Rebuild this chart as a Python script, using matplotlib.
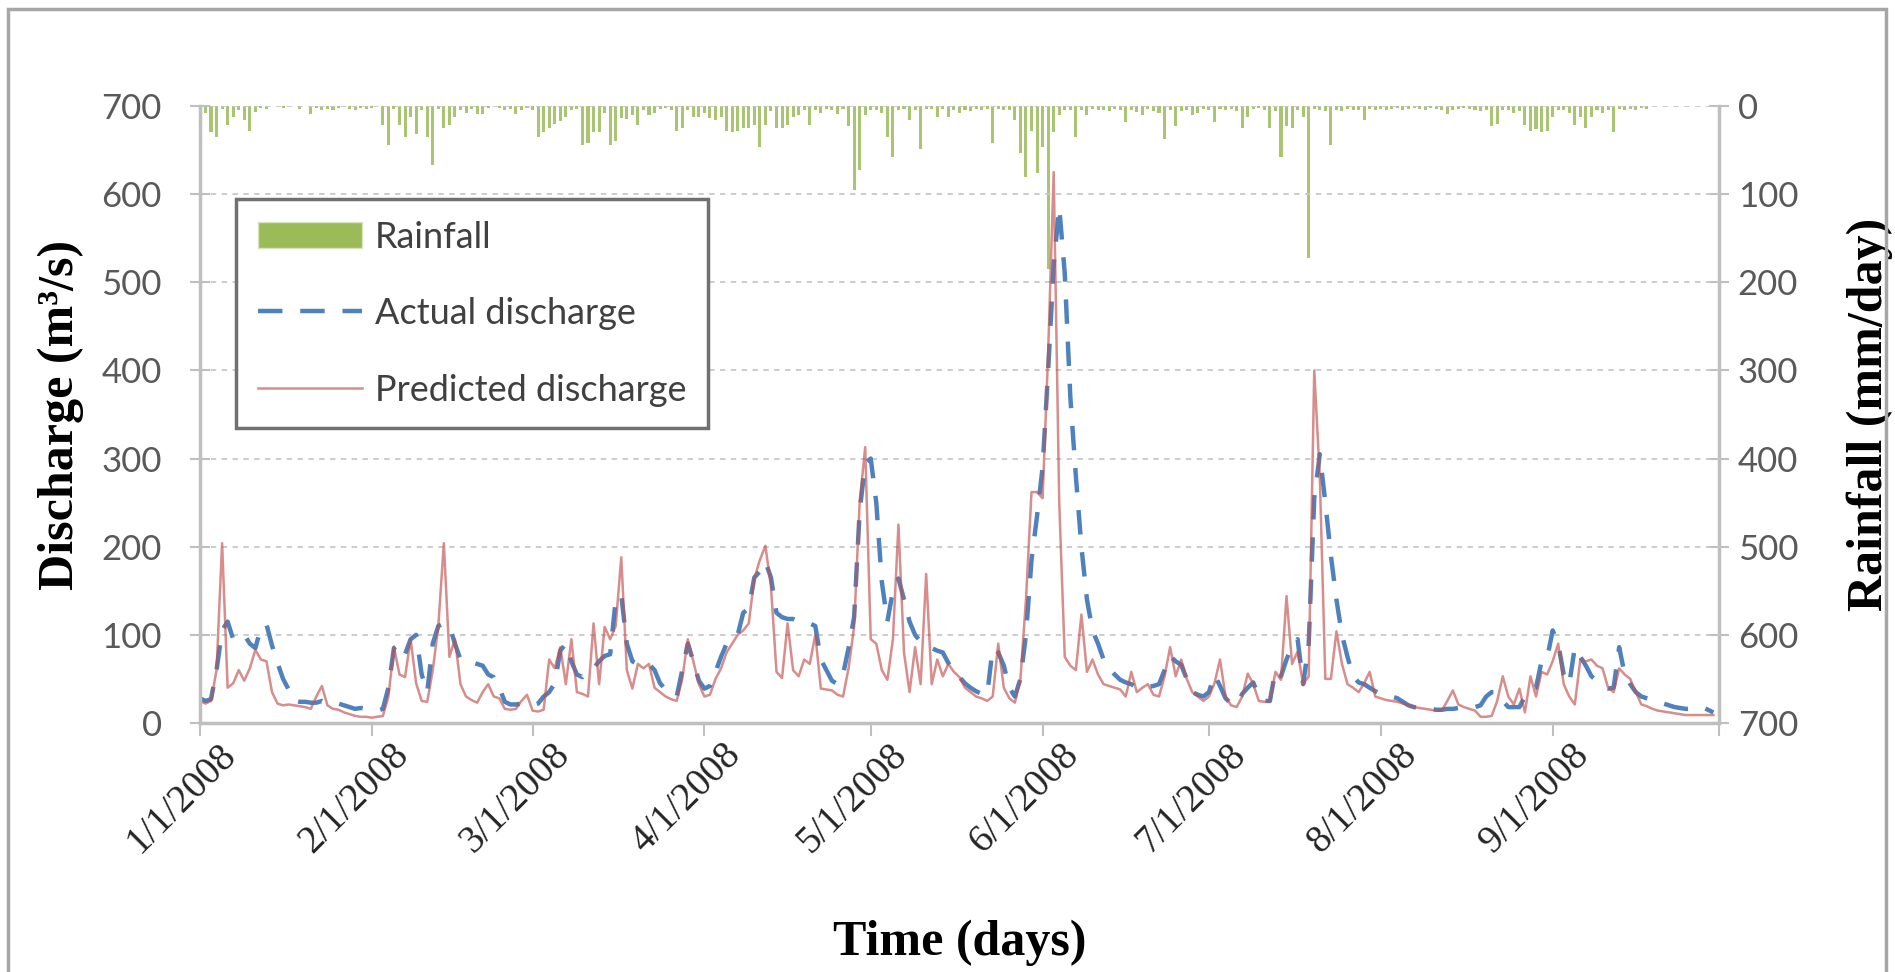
import pandas as pd
import matplotlib
matplotlib.use("Agg")
import matplotlib.pyplot as plt
import matplotlib.transforms as mtransforms
from matplotlib.patches import Patch, Rectangle
from matplotlib.lines import Line2D

# daily values, 1/1/2008 .. 9/30/2008, one list per month
actual_jan = [28, 25, 27, 60, 105, 115, 95, 97, 100, 90, 85, 108, 112, 88, 68, 50, 38, 25, 24, 24, 23, 23, 25, 22, 21, 22, 20, 18, 16, 17, 16]
actual_feb = [15, 14, 16, 40, 85, 90, 78, 95, 100, 55, 35, 90, 110, 113, 110, 90, 72, 70, 69, 67, 65, 55, 52, 40, 24, 21, 21, 22, 22]
actual_mar = [20, 22, 30, 35, 45, 82, 90, 70, 55, 52, 60, 62, 70, 76, 78, 140, 145, 90, 70, 67, 66, 67, 60, 45, 38, 34, 30, 60, 90, 70, 48]
actual_apr = [39, 42, 58, 75, 90, 95, 100, 125, 130, 165, 172, 183, 165, 125, 120, 118, 118, 115, 113, 113, 110, 72, 60, 48, 44, 55, 85, 120, 240, 295]
actual_may = [300, 250, 160, 115, 150, 164, 140, 115, 100, 92, 90, 85, 82, 80, 68, 58, 52, 45, 40, 36, 33, 32, 85, 80, 65, 40, 30, 50, 100, 185, 235]
actual_jun = [290, 400, 520, 585, 510, 370, 280, 200, 140, 105, 90, 72, 62, 55, 49, 46, 44, 40, 40, 41, 42, 44, 60, 76, 70, 66, 50, 35, 32, 30]
actual_jul = [35, 55, 42, 28, 22, 21, 33, 40, 46, 30, 25, 25, 60, 53, 72, 88, 95, 44, 90, 255, 305, 250, 190, 140, 100, 75, 53, 46, 44, 40, 36]
actual_aug = [33, 31, 30, 28, 24, 20, 18, 17, 16, 16, 15, 15, 16, 16, 17, 18, 18, 18, 20, 30, 35, 35, 25, 18, 18, 18, 30, 39, 40, 70, 73]
actual_sep = [105, 90, 55, 44, 86, 75, 65, 53, 48, 42, 39, 40, 86, 55, 44, 35, 30, 28, 26, 24, 22, 20, 18, 17, 16, 16, 17, 18, 15, 12]

pred_jan = [25, 22, 25, 60, 204, 40, 45, 60, 48, 62, 83, 72, 70, 35, 22, 20, 21, 20, 19, 18, 16, 30, 42, 20, 16, 15, 12, 10, 8, 7, 7]
pred_feb = [6, 7, 8, 30, 86, 55, 52, 95, 45, 25, 24, 60, 110, 204, 75, 95, 44, 30, 26, 23, 35, 44, 30, 28, 16, 15, 16, 25, 32]
pred_mar = [14, 13, 15, 72, 62, 86, 44, 95, 35, 33, 30, 113, 44, 109, 95, 110, 188, 60, 39, 67, 62, 67, 40, 35, 30, 27, 25, 50, 95, 70, 44]
pred_apr = [30, 32, 50, 62, 80, 90, 100, 105, 113, 164, 185, 201, 155, 58, 51, 113, 60, 53, 72, 67, 100, 39, 38, 37, 32, 30, 62, 109, 250, 313]
pred_may = [95, 90, 60, 49, 95, 225, 80, 35, 86, 44, 169, 44, 72, 53, 67, 58, 52, 40, 35, 30, 28, 25, 30, 90, 40, 28, 23, 50, 140, 262, 262]
pred_jun = [255, 420, 625, 250, 75, 65, 60, 123, 58, 72, 55, 44, 42, 40, 38, 30, 58, 35, 40, 44, 32, 30, 53, 86, 53, 72, 50, 35, 30, 25]
pred_jul = [30, 45, 72, 30, 20, 18, 30, 56, 44, 25, 24, 25, 58, 49, 144, 67, 81, 44, 53, 400, 280, 50, 50, 104, 67, 44, 40, 35, 45, 58, 30]
pred_aug = [28, 26, 25, 24, 22, 20, 18, 17, 16, 15, 14, 14, 25, 37, 21, 18, 16, 14, 7, 7, 8, 25, 53, 30, 21, 39, 12, 53, 30, 58, 55]
pred_sep = [70, 90, 44, 30, 21, 72, 70, 72, 65, 62, 40, 35, 62, 55, 50, 35, 21, 19, 16, 14, 13, 12, 11, 10, 9, 9, 9, 9, 9, 9]

rain_jan = [5, 8, 30, 35, 3, 21, 12, 4, 16, 28, 7, 2, 3, 0, 0, 2, 0, 0, 3, 0, 9, 2, 4, 3, 5, 2, 0, 3, 4, 2, 3]
rain_feb = [2, 0, 21, 44, 3, 21, 35, 12, 32, 4, 35, 67, 3, 25, 22, 12, 5, 8, 3, 9, 9, 2, 0, 2, 4, 3, 9, 5, 2]
rain_mar = [4, 35, 30, 25, 20, 17, 12, 5, 3, 44, 42, 30, 30, 8, 44, 40, 14, 15, 10, 21, 5, 10, 8, 3, 2, 5, 28, 25, 4, 12, 12]
rain_apr = [8, 14, 16, 12, 28, 30, 28, 25, 25, 22, 46, 21, 6, 25, 25, 22, 12, 10, 4, 21, 5, 8, 3, 5, 9, 3, 23, 95, 72, 10]
rain_may = [5, 4, 8, 35, 58, 4, 3, 16, 4, 49, 3, 3, 12, 3, 12, 4, 8, 5, 6, 3, 4, 3, 42, 3, 4, 5, 16, 53, 81, 28, 76]
rain_jun = [46, 185, 30, 10, 4, 5, 35, 4, 10, 3, 5, 4, 6, 3, 5, 18, 4, 7, 10, 3, 6, 8, 37, 5, 23, 6, 4, 10, 8, 3]
rain_jul = [5, 18, 3, 4, 3, 6, 25, 12, 3, 2, 4, 25, 6, 58, 23, 25, 4, 12, 172, 3, 4, 6, 44, 5, 6, 3, 5, 4, 16, 3, 4]
rain_aug = [3, 5, 3, 2, 4, 3, 2, 3, 4, 2, 3, 5, 9, 4, 3, 2, 3, 4, 6, 5, 23, 20, 5, 4, 8, 6, 21, 28, 26, 30, 28]
rain_sep = [12, 5, 4, 8, 21, 12, 25, 12, 4, 8, 5, 30, 3, 5, 3, 4, 2, 3, 0, 0, 0, 0, 0, 0, 0, 0, 0, 0, 0, 0]

actual = (actual_jan + actual_feb + actual_mar + actual_apr + actual_may
          + actual_jun + actual_jul + actual_aug + actual_sep)
predicted = (pred_jan + pred_feb + pred_mar + pred_apr + pred_may
             + pred_jun + pred_jul + pred_aug + pred_sep)
rainfall = (rain_jan + rain_feb + rain_mar + rain_apr + rain_may
            + rain_jun + rain_jul + rain_aug + rain_sep)

dates = pd.date_range("2008-01-01", periods=len(actual), freq="D")
month_ticks = pd.date_range("2008-01-01", "2008-10-01", freq="MS")
tick_labels = ["1/1/2008", "2/1/2008", "3/1/2008", "4/1/2008", "5/1/2008",
               "6/1/2008", "7/1/2008", "8/1/2008", "9/1/2008", ""]
left_ticks = [0, 100, 200, 300, 400, 500, 600, 700]

GREEN = "#9BBB59"
BLUE = "#4F81BD"
RED = "#C0504D"
AXGRAY = "#BFBFBF"

fig = plt.figure(figsize=(18.95, 9.72), dpi=100)
ax = fig.add_axes([0.1055, 0.2562, 0.8016, 0.6347])
ax2 = ax.twinx()

# rainfall hangs from the top on the secondary axis
ax2.bar(dates, rainfall, width=0.55, color=GREEN, linewidth=0, alpha=0.85)
ax2.set_ylim(700, 0)

ax.set_zorder(ax2.get_zorder() + 1)
ax.patch.set_visible(False)

ax.plot(dates, actual, color=BLUE, lw=3.2, dashes=(5.5, 4))
ax.plot(dates, predicted, color=RED, lw=1.8, alpha=0.65)

ax.set_xlim(pd.Timestamp("2008-01-01"), pd.Timestamp("2008-10-01"))
ax.set_ylim(0, 700)
ax.set_yticks(left_ticks)
ax2.set_yticks(left_ticks)

ax.yaxis.grid(True, linestyle=(0, (3, 3)), color="#C8C8C8", lw=1.3)

for a in (ax, ax2):
    for s in a.spines.values():
        s.set_visible(False)
ax.spines["left"].set_visible(True)
ax.spines["bottom"].set_visible(True)
ax2.spines["right"].set_visible(True)
for s in (ax.spines["left"], ax.spines["bottom"], ax2.spines["right"]):
    s.set_color(AXGRAY)
    s.set_linewidth(2.5)

tickfont = {"family": "Lato", "size": 25, "color": "#595959"}
ax.set_yticklabels([str(v) for v in left_ticks], fontdict=tickfont)
ax2.set_yticklabels([str(v) for v in left_ticks], fontdict=tickfont)
ax.tick_params(axis="y", direction="inout", length=15, width=1.5, color=AXGRAY, pad=20)
ax2.tick_params(axis="y", direction="inout", length=15, width=1.5, color=AXGRAY, pad=6)

ax.set_xticks(month_ticks)
ax.set_xticklabels(tick_labels, rotation=45, ha="right", va="top",
                   rotation_mode="anchor")
ax.tick_params(axis="x", direction="out", length=9, width=1.5, color=AXGRAY, pad=1)
shift = mtransforms.ScaledTranslation(18 / 100, 0, fig.dpi_scale_trans)
for lab in ax.get_xticklabels():
    lab.set_fontfamily("Liberation Serif")
    lab.set_fontsize(28)
    lab.set_color("#262626")
    lab.set_transform(lab.get_transform() + shift)

labfont = {"family": "Liberation Serif", "weight": "bold", "size": 36}
ax.set_ylabel("Discharge (m³/s)", fontdict=labfont)
ax.yaxis.set_label_coords(-0.0915, 0.5)
ax.yaxis.label.set_va("center")
ax2.set_ylabel("Rainfall (mm/day)", fontdict=labfont, rotation=90)
ax2.yaxis.set_label_coords(1.099, 0.5)
ax2.yaxis.label.set_va("center")
ax.set_xlabel("Time (days)", fontdict=labfont)
ax.xaxis.set_label_coords(0.5, -0.356)
ax.xaxis.label.set_va("center")

handles = [Patch(facecolor=GREEN, edgecolor="#D7E4BD", lw=1),
           Line2D([], [], color=BLUE, lw=3.2, dashes=(5.5, 4)),
           Line2D([], [], color=RED, lw=1.8, alpha=0.65)]
leg = ax.legend(handles, ["Rainfall", "Actual discharge", "Predicted discharge"],
                loc="upper left", bbox_to_anchor=(0.0237, 0.849), borderaxespad=0,
                prop={"family": "Lato", "size": 26}, handlelength=2.9,
                handleheight=0.75, handletextpad=0.35, labelspacing=1.2,
                borderpad=0.6, fancybox=False, framealpha=1)
leg.get_frame().set_edgecolor("#707070")
leg.get_frame().set_linewidth(2.5)
for t in leg.get_texts():
    t.set_color("#404040")

# chart-area frame
fig.patches.append(Rectangle((0.004, -0.2), 0.991, 1.191, transform=fig.transFigure,
                             fill=False, edgecolor="#A6A6A6", lw=2.5))

fig.savefig("out.png", dpi=100)
